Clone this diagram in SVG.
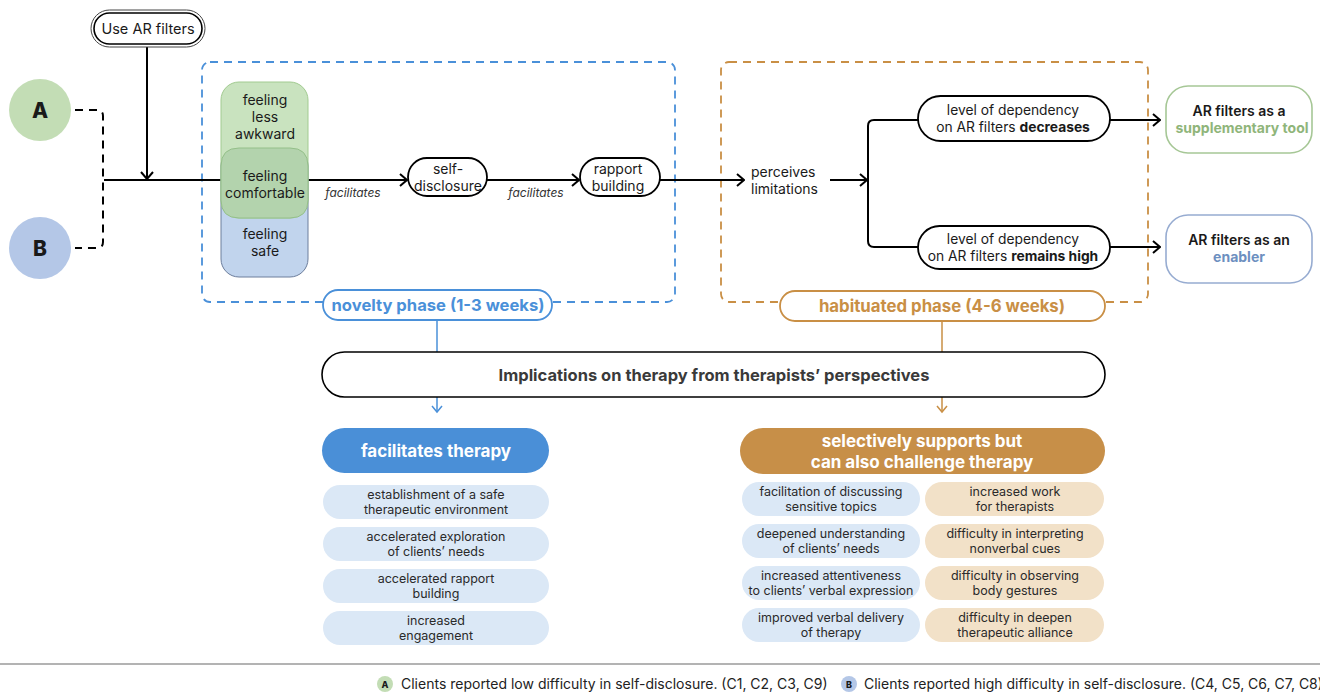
<svg xmlns="http://www.w3.org/2000/svg" width="1320" height="696" viewBox="0 0 1320 696">
<defs>
<style>
text{font-family:Inter,"Noto Sans","Liberation Sans",sans-serif;fill:#1a1a1a;text-anchor:middle}
.t14{font-size:14px}
.t13{font-size:13.8px}
.it{font-size:12px;font-style:italic;fill:#333}
.b{font-weight:700}
.ln{fill:none;stroke:#000;stroke-width:2}
.pill{fill:#fff;stroke:#000;stroke-width:1.8}
.li{fill:#dbe8f6}
.lo{fill:#f2e1c8}
.lt{font-size:12.5px;fill:#2a2a2a}
</style>
<marker id="ah" markerWidth="10" markerHeight="14" refX="9" refY="7" orient="auto" markerUnits="userSpaceOnUse">
<path d="M2,1 L9,7 L2,13" fill="none" stroke="#000" stroke-width="2"/>
</marker>
</defs>
<rect width="1320" height="696" fill="#fff"/>

<!-- phase boxes -->
<g id="novelty-phase">
<rect x="202" y="62" width="473" height="240" rx="8" fill="none" stroke="#4a90d9" stroke-width="1.8" stroke-dasharray="8 6"/>
<rect x="323" y="290" width="229" height="30" rx="15" fill="#fff" stroke="#4a90d9" stroke-width="1.8"/>
<text x="438" y="311" style="font-size:16.6px;font-weight:700;fill:#4a90d9">novelty phase (1-3 weeks)</text>
</g>
<g id="habituated-phase">
<rect x="721" y="62" width="427" height="240" rx="8" fill="none" stroke="#c98f45" stroke-width="1.8" stroke-dasharray="8 6"/>
<rect x="780" y="291" width="325" height="30" rx="15" fill="#fff" stroke="#c98f45" stroke-width="1.8"/>
<text x="942" y="312" style="font-size:16.8px;font-weight:700;fill:#c98f45">habituated phase (4-6 weeks)</text>
</g>

<!-- connectors -->
<g id="connectors">
<path d="M75,110 H97 Q103,110 103,116 V242 Q103,248 97,248 H75" fill="none" stroke="#000" stroke-width="2" stroke-dasharray="8 6"/>
<path class="ln" d="M104,180 H221"/>
<path class="ln" d="M147,47 V179" marker-end="url(#ah)"/>
<path class="ln" d="M308,180 H407" marker-end="url(#ah)"/>
<path class="ln" d="M487,180 H579" marker-end="url(#ah)"/>
<path class="ln" d="M660,180 H744" marker-end="url(#ah)"/>
<path class="ln" d="M830,180 H867" marker-end="url(#ah)"/>
<path class="ln" d="M918,120 H874 Q868,120 868,126 V241 Q868,247 874,247 H918"/>
<path class="ln" d="M1110,120 H1160" marker-end="url(#ah)"/>
<path class="ln" d="M1110,247 H1160" marker-end="url(#ah)"/>
<text class="it" x="353" y="197">facilitates</text>
<text class="it" x="536" y="197">facilitates</text>
<path d="M437,320 V352" stroke="#4a90d9" stroke-width="1.5"/>
<path d="M942,321 V352" stroke="#c98f45" stroke-width="1.5"/>
<path d="M437,397 V411" stroke="#4a90d9" stroke-width="1.5"/>
<path d="M432,406 L437,412 L442,406" fill="none" stroke="#4a90d9" stroke-width="1.5"/>
<path d="M942,397 V411" stroke="#c98f45" stroke-width="1.5"/>
<path d="M937,406 L942,412 L947,406" fill="none" stroke="#c98f45" stroke-width="1.5"/>
</g>

<g id="use-ar-filters">
<rect x="91" y="10" width="114" height="37" rx="18.5" fill="#fff" stroke="#444" stroke-width="1"/>
<rect x="94" y="13" width="108" height="31" rx="15.5" fill="#fff" stroke="#000" stroke-width="1.6"/>
<text x="148" y="34" style="font-size:14.5px">Use AR filters</text>
</g>

<g id="node-A">
<circle cx="40" cy="110" r="31" fill="#c3ddb5"/>
<text x="40" y="118" style="font-size:21px;font-weight:800">A</text>
</g>
<g id="node-B">
<circle cx="40" cy="248" r="31" fill="#b4c7e7"/>
<text x="40" y="256" style="font-size:21px;font-weight:800">B</text>
</g>

<g id="feelings">
<rect x="221" y="148" width="87" height="129" rx="18" fill="#c1d4ed" stroke="#6d7e9c" stroke-width="1"/>
<rect x="221" y="82" width="87" height="136" rx="18" fill="#c9e3bf" stroke="#a2cb91" stroke-width="1"/>
<path d="M221,166 Q221,148 239,148 H290 Q308,148 308,166 V200 Q308,218 290,218 H239 Q221,218 221,200 Z" fill="#b3d3ad" stroke="#94bf89" stroke-width="1"/>
<text class="t14" x="265" y="105">feeling</text>
<text class="t14" x="265" y="122">less</text>
<text class="t14" x="265" y="139">awkward</text>
<text class="t14" x="265" y="181">feeling</text>
<text class="t14" x="265" y="198">comfortable</text>
<text class="t14" x="265" y="239">feeling</text>
<text class="t14" x="265" y="256">safe</text>
</g>

<g id="self-disclosure">
<rect class="pill" x="408" y="158" width="79" height="38" rx="19"/>
<text class="t14" x="448" y="174">self-</text>
<text class="t14" x="448" y="191">disclosure</text>
</g>
<g id="rapport-building">
<rect class="pill" x="580" y="158" width="80" height="38" rx="19"/>
<text class="t14" x="618" y="174">rapport</text>
<text class="t14" x="618" y="191">building</text>
</g>
<g id="perceives-limitations">
<text class="t14" x="751" y="177" style="text-anchor:start">perceives</text>
<text class="t14" x="751" y="194" style="text-anchor:start">limitations</text>
</g>
<g id="dependency-decreases">
<rect class="pill" x="918" y="96" width="192" height="45" rx="22.5"/>
<text class="t13" x="1013" y="115">level of dependency</text>
<text class="t13" x="1013" y="132">on AR filters <tspan class="b">decreases</tspan></text>
</g>
<g id="dependency-high">
<rect class="pill" x="918" y="226" width="192" height="43" rx="21.5"/>
<text class="t13" x="1013" y="244">level of dependency</text>
<text class="t13" x="1013" y="261">on AR filters <tspan class="b">remains high</tspan></text>
</g>
<g id="supplementary-tool">
<rect x="1166" y="86" width="146" height="67" rx="22" fill="#fff" stroke="#a6c796" stroke-width="1.6"/>
<text x="1239" y="116" style="font-size:14px;font-weight:600">AR filters as a</text>
<text x="1242" y="133" style="font-size:14px;font-weight:700;fill:#8fb57a">supplementary tool</text>
</g>
<g id="enabler">
<rect x="1166" y="215" width="146" height="68" rx="22" fill="#fff" stroke="#97acd1" stroke-width="1.6"/>
<text x="1239" y="245" style="font-size:14px;font-weight:600">AR filters as an</text>
<text x="1239" y="262" style="font-size:14px;font-weight:700;fill:#6d8fc0">enabler</text>
</g>

<g id="implications">
<rect x="322" y="352" width="783" height="45" rx="22.5" fill="#fff" stroke="#000" stroke-width="1.6"/>
<text x="714" y="381" style="font-size:16.5px;font-weight:700;fill:#3a3a3a">Implications on therapy from therapists’ perspectives</text>
</g>

<g id="facilitates-therapy">
<rect x="322" y="428" width="227" height="45" rx="22.5" fill="#4a8fd7"/>
<text x="436" y="457" style="font-size:17px;font-weight:700;fill:#fff">facilitates therapy</text>
</g>
<g id="challenge-therapy">
<rect x="740" y="428" width="365" height="46" rx="23" fill="#c78f48"/>
<text x="922" y="447" style="font-size:17px;font-weight:700;fill:#fff">selectively supports but</text>
<text x="922" y="468" style="font-size:17px;font-weight:700;fill:#fff">can also challenge therapy</text>
</g>

<g id="left-list">
<rect class="li" x="323" y="485" width="226" height="34" rx="17"/>
<text class="lt" x="436" y="499">establishment of a safe</text>
<text class="lt" x="436" y="514">therapeutic environment</text>
<rect class="li" x="323" y="527" width="226" height="34" rx="17"/>
<text class="lt" x="436" y="541">accelerated exploration</text>
<text class="lt" x="436" y="556">of clients’ needs</text>
<rect class="li" x="323" y="569" width="226" height="34" rx="17"/>
<text class="lt" x="436" y="583">accelerated rapport</text>
<text class="lt" x="436" y="598">building</text>
<rect class="li" x="323" y="611" width="226" height="34" rx="17"/>
<text class="lt" x="436" y="625">increased</text>
<text class="lt" x="436" y="640">engagement</text>
</g>

<g id="right-list-support">
<rect class="li" x="742" y="482" width="178" height="34" rx="17"/>
<text class="lt" x="831" y="496">facilitation of discussing</text>
<text class="lt" x="831" y="511">sensitive topics</text>
<rect class="li" x="742" y="524" width="178" height="34" rx="17"/>
<text class="lt" x="831" y="538">deepened understanding</text>
<text class="lt" x="831" y="553">of clients’ needs</text>
<rect class="li" x="742" y="566" width="178" height="34" rx="17"/>
<text class="lt" x="831" y="580">increased attentiveness</text>
<text class="lt" x="831" y="595">to clients’ verbal expression</text>
<rect class="li" x="742" y="608" width="178" height="34" rx="17"/>
<text class="lt" x="831" y="622">improved verbal delivery</text>
<text class="lt" x="831" y="637">of therapy</text>
</g>
<g id="right-list-challenge">
<rect class="lo" x="925" y="482" width="179" height="34" rx="17"/>
<text class="lt" x="1015" y="496">increased work</text>
<text class="lt" x="1015" y="511">for therapists</text>
<rect class="lo" x="925" y="524" width="179" height="34" rx="17"/>
<text class="lt" x="1015" y="538">difficulty in interpreting</text>
<text class="lt" x="1015" y="553">nonverbal cues</text>
<rect class="lo" x="925" y="566" width="179" height="34" rx="17"/>
<text class="lt" x="1015" y="580">difficulty in observing</text>
<text class="lt" x="1015" y="595">body gestures</text>
<rect class="lo" x="925" y="608" width="179" height="34" rx="17"/>
<text class="lt" x="1015" y="622">difficulty in deepen</text>
<text class="lt" x="1015" y="637">therapeutic alliance</text>
</g>

<g id="legend">
<path d="M0,664 H1320" stroke="#9a9a9a" stroke-width="1.5"/>
<circle cx="385" cy="684" r="8" fill="#c3ddb5"/>
<text x="385" y="688" style="font-size:9px;font-weight:800">A</text>
<text x="401" y="689" style="font-size:14px;text-anchor:start;fill:#222">Clients reported low difficulty in self-disclosure. (C1, C2, C3, C9)</text>
<circle cx="849" cy="684" r="8" fill="#b4c7e7"/>
<text x="849" y="688" style="font-size:9px;font-weight:800">B</text>
<text x="864" y="689" style="font-size:14px;text-anchor:start;fill:#222">Clients reported high difficulty in self-disclosure. (C4, C5, C6, C7, C8)</text>
</g>
</svg>
